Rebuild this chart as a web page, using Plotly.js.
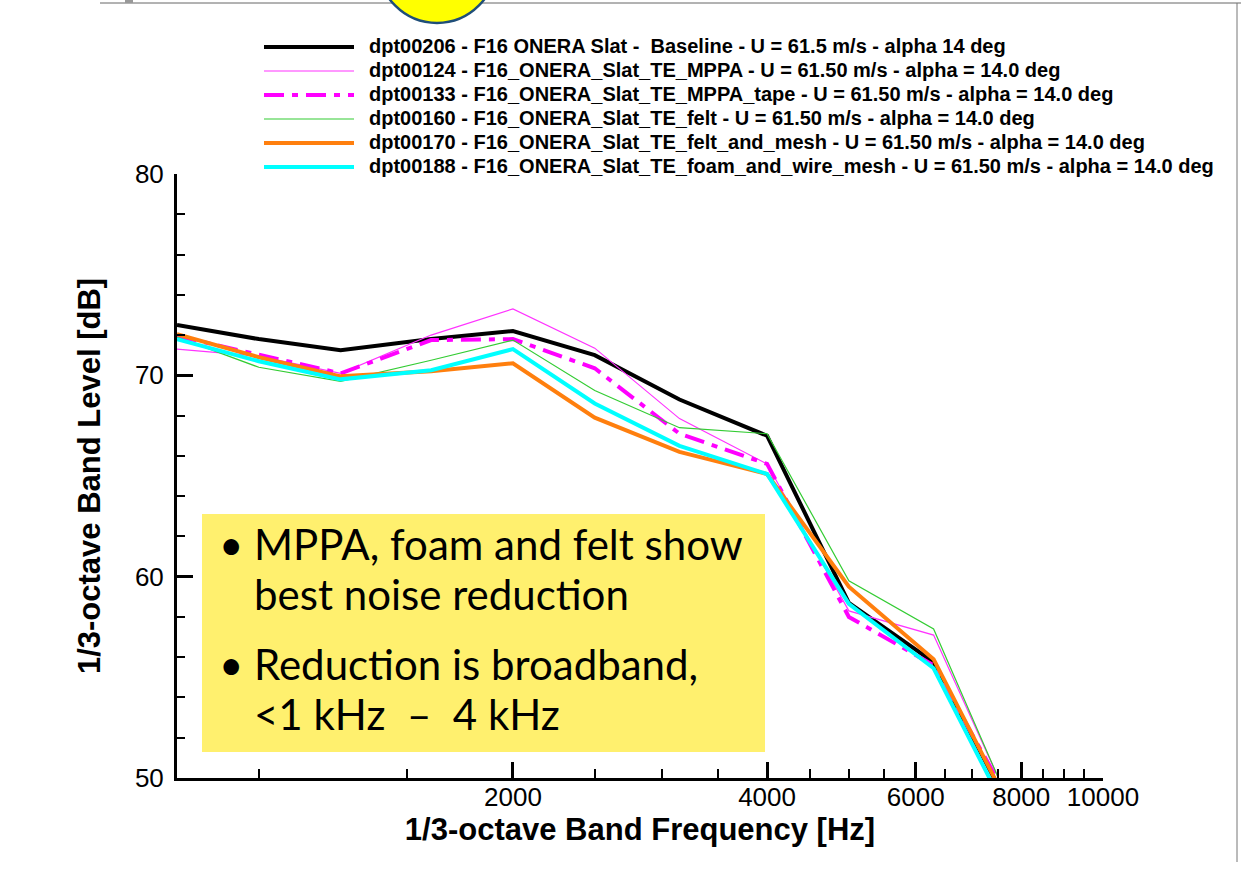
<!DOCTYPE html>
<html>
<head>
<meta charset="utf-8">
<script src="https://cdn.plot.ly/plotly-3.0.1.min.js"></script>
<style>
html,body{margin:0;padding:0;background:#fff;}
#chart{width:1241px;height:869px;}
</style>
</head>
<body>
<div id="chart"></div>
<script>
// ---- data (1/3-octave band centre frequencies, Hz) ----
const freqHz = [800, 1000, 1250, 1600, 2000, 2500, 3150, 4000, 5000, 6300, 8000];

const baselineDB   = [72.5, 71.8, 71.25, 71.8, 72.2, 71.0, 68.8, 67.0, 58.7, 55.75, 47.4];
const mppaDB       = [71.3, 70.95, 70.1, 72.0, 73.3, 71.35, 67.85, 65.6, 58.3, 57.1, 47.5];
const mppaTapeDB   = [71.95, 71.0, 70.1, 71.75, 71.8, 70.35, 67.1, 65.6, 58.0, 55.6, 47.8];
const feltDB       = [71.9, 70.4, 69.7, 70.75, 71.75, 69.25, 67.4, 67.1, 59.8, 57.4, 47.4];
const feltMeshDB   = [72.05, 70.9, 69.95, 70.2, 70.6, 67.9, 66.2, 65.1, 59.5, 55.9, 47.4];
const foamMeshDB   = [71.8, 70.7, 69.8, 70.25, 71.3, 68.6, 66.5, 65.1, 58.65, 55.45, 46.9];

const seriesNames = [
  "dpt00206 - F16 ONERA Slat - \u00a0Baseline - U = 61.5 m/s - alpha 14 deg",
  "dpt00124 - F16_ONERA_Slat_TE_MPPA - U = 61.50 m/s - alpha = 14.0 deg",
  "dpt00133 - F16_ONERA_Slat_TE_MPPA_tape - U = 61.50 m/s - alpha = 14.0 deg",
  "dpt00160 - F16_ONERA_Slat_TE_felt - U = 61.50 m/s - alpha = 14.0 deg",
  "dpt00170 - F16_ONERA_Slat_TE_felt_and_mesh - U = 61.50 m/s - alpha = 14.0 deg",
  "dpt00188 - F16_ONERA_Slat_TE_foam_and_wire_mesh - U = 61.50 m/s - alpha = 14.0 deg"
];
const seriesValues = [baselineDB, mppaDB, mppaTapeDB, feltDB, feltMeshDB, foamMeshDB];

const xTickVals = [2000, 4000, 6000, 8000, 10000];
const xTickText = ["2000", "4000", "6000", "8000", "10000"];
const xMinorVals = [1000, 1500, 2500, 3000, 3500, 4500, 5000, 5500, 6500, 7000, 7500, 8500, 9000, 9500];
const yTickVals = [50, 60, 70, 80];

const noteLine1 = ["MPPA, foam and felt show", "best noise reduction"];
const noteLine2 = ["Reduction is broadband,", "<1 kHz \u00a0\u2013 \u00a04 kHz"];

// ---- styles ----
const seriesColors = ["#000000", "#ff33ff", "#ff00ff", "#33cc33", "#ff7f0e", "#00ffff"];
const seriesWidths = [4, 1.2, 4, 1.2, 4, 4];
const seriesDash   = ["solid", "solid", "20px,8px,6px,8px", "solid", "solid", "solid"];

// ---- geometry helpers (page pixels -> paper coords) ----
const W = 1241, H = 869;
const PL = 177, PR = 1103, PT = 174, PB = 778;
const px = x => (x - PL) / (PR - PL);
const py = y => (PB - y) / (PB - PT);

const traces = seriesValues.map((vals, i) => ({
  type: "scatter",
  mode: "lines",
  x: freqHz,
  y: vals,
  name: seriesNames[i],
  showlegend: false,
  line: {color: seriesColors[i], width: seriesWidths[i], dash: seriesDash[i]},
  hoverinfo: "x+y+name"
}));

const shapes = [];
const annotations = [];

// manual legend
seriesNames.forEach((nm, i) => {
  const yy = 47 + 24 * i;
  shapes.push({
    type: "line", xref: "paper", yref: "paper",
    x0: px(264), x1: px(354), y0: py(yy), y1: py(yy),
    line: {color: seriesColors[i], width: seriesWidths[i], dash: seriesDash[i]}
  });
  annotations.push({
    xref: "paper", yref: "paper", x: px(367), y: py(yy - 1),
    xanchor: "left", yanchor: "middle", showarrow: false,
    text: nm,
    font: {family: "Liberation Sans, Arial, sans-serif", size: 20, color: "#000", weight: "bold"}
  });
});

// yellow note box
shapes.push({
  type: "rect", xref: "paper", yref: "paper", layer: "above",
  x0: px(202), x1: px(765), y0: py(752), y1: py(514),
  fillcolor: "#fff06e", line: {width: 0}
});
const noteFont = {family: "Lato, 'Open Sans', sans-serif", size: 42, color: "#000"};
[[noteLine1, 544], [noteLine2, 664]].forEach(([lines, y0]) => {
  annotations.push({
    xref: "paper", yref: "paper", x: px(217), y: py(y0),
    xanchor: "left", yanchor: "middle", showarrow: false,
    text: "\u2022", font: noteFont
  });
  lines.forEach((t, k) => {
    annotations.push({
      xref: "paper", yref: "paper", x: px(252), y: py(y0 + 50 * k),
      xanchor: "left", yanchor: "middle", showarrow: false,
      text: t, font: noteFont
    });
  });
});

// decorations at page edges
shapes.push({type: "line", xref: "paper", yref: "paper",
  x0: px(100), x1: px(1241), y0: py(3), y1: py(3), line: {color: "#666", width: 1}});
shapes.push({type: "line", xref: "paper", yref: "paper",
  x0: px(1237), x1: px(1237), y0: py(3), y1: py(862), line: {color: "#777", width: 1}});
shapes.push({type: "rect", xref: "paper", yref: "paper",
  x0: px(125), x1: px(133), y0: py(3), y1: py(0), fillcolor: "#999", line: {width: 0}});
shapes.push({type: "circle", xref: "paper", yref: "paper",
  x0: px(378), x1: px(496), y0: py(23), y1: py(-95),
  fillcolor: "#ffff00", line: {color: "#1f4e79", width: 2.5}});

const layout = {
  width: W, height: H,
  margin: {l: PL, r: W - PR, t: PT, b: H - PB, pad: 0},
  paper_bgcolor: "#ffffff",
  plot_bgcolor: "#ffffff",
  showlegend: false,
  font: {family: "Liberation Sans, Arial, sans-serif", color: "#000"},
  xaxis: {
    type: "log",
    range: [Math.log10(800), 4],
    tickmode: "array",
    tickvals: xTickVals,
    ticktext: xTickText,
    ticks: "inside", ticklen: 16, tickwidth: 3, tickcolor: "#000",
    minor: {tickmode: "array", tickvals: xMinorVals, ticks: "inside",
            ticklen: 9, tickwidth: 1.5, tickcolor: "#000", showgrid: false},
    showline: true, linecolor: "#000", linewidth: 3, mirror: false,
    showgrid: false, zeroline: false,
    tickfont: {size: 26, family: "Liberation Sans, Arial, sans-serif"},
    ticklabelstandoff: -6,
    title: {text: "1/3-octave Band Frequency [Hz]", standoff: 0,
            font: {size: 31, weight: "bold", family: "Liberation Sans, Arial, sans-serif"}},
    automargin: false
  },
  yaxis: {
    range: [50, 80],
    tickmode: "array",
    tickvals: yTickVals,
    ticks: "inside", ticklen: 16, tickwidth: 3, tickcolor: "#000",
    minor: {dtick: 2, tick0: 50, ticks: "inside", ticklen: 8, tickwidth: 1.5,
            tickcolor: "#000", showgrid: false},
    showline: true, linecolor: "#000", linewidth: 3, mirror: false,
    showgrid: false, zeroline: false,
    tickfont: {size: 26, family: "Liberation Sans, Arial, sans-serif"},
    ticklabelstandoff: 5,
    title: {text: "1/3-octave Band Level [dB]", standoff: 26,
            font: {size: 31, weight: "bold", family: "Liberation Sans, Arial, sans-serif"}},
    automargin: false
  },
  shapes: shapes,
  annotations: annotations
};

Plotly.newPlot("chart", traces, layout, {displayModeBar: false, staticPlot: false});
</script>
</body>
</html>
